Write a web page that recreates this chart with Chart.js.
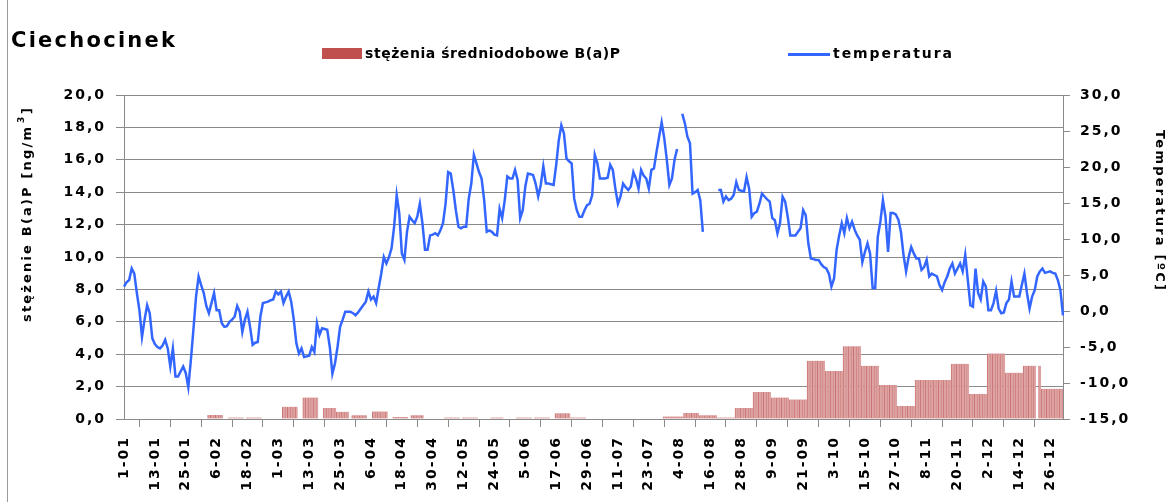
<!DOCTYPE html>
<html>
<head>
<meta charset="utf-8">
<script src="https://cdn.jsdelivr.net/npm/chart.js@4.4.1/dist/chart.umd.min.js"></script>
<style>
html, body { margin: 0; padding: 0; background: #fff; }
#wrap { position: relative; width: 1171px; height: 502px; }
</style>
</head>
<body>
<div id="wrap"><canvas id="ciechocinek"></canvas></div>
<script>
const BAR_FILL = '#dea4a3';
const BAR_STRIPE = '#c97473';
const LEGEND_RED = '#c0504d';
const LINE_COLOR = '#3366ff';
const AXIS_COLOR = '#8a8a8a';
const FONT_FAMILY = '"DejaVu Sans", sans-serif';
const YEAR = 2008; // leap year: 18-02 + 12 days = 1-03

// B(a)P composite samples: first day, last day (0 = 1 Jan), value in ng/m3
const BAP_START = [33, 41, 48, 62, 70, 78, 83, 89, 97, 105, 112, 125, 132, 143, 153, 160, 168, 174,
    210, 218, 224, 231, 238, 245, 252, 259, 266, 273, 280, 287, 294, 301, 308, 322, 329, 336, 343, 350, 356, 357];
const BAP_END = [38, 46, 53, 67, 75, 82, 87, 94, 102, 110, 116, 130, 137, 147, 158, 165, 173, 179,
    217, 223, 230, 237, 244, 251, 258, 265, 272, 279, 286, 293, 300, 307, 321, 328, 335, 342, 349, 354, 356, 365];
const BAP_VALUE = [0.25, 0.1, 0.1, 0.76, 1.32, 0.68, 0.45, 0.23, 0.47, 0.12, 0.23, 0.1, 0.1, 0.1, 0.1, 0.1, 0.35, 0.1,
    0.16, 0.37, 0.23, 0.1, 0.68, 1.67, 1.32, 1.21, 3.6, 2.96, 4.49, 3.29, 2.1, 0.8, 2.41, 3.41, 1.54, 4.05, 2.86, 3.29, 3.29, 1.87];

// daily mean temperature [C], 1 Jan - 31 Dec
const TEMPERATURE = [
    3.4, 4.0, 4.3, 5.9, 5.2, 2.5, 0.1, -3.6, -1.2, 0.8,
    -0.3, -3.8, -4.6, -5.0, -5.2, -4.8, -4.0, -5.2, -7.7, -5.2,
    -9.1, -9.1, -8.4, -7.7, -8.6, -10.6, -6.8, -2.5, 2.0, 4.8,
    3.6, 2.5, 0.7, -0.3, 1.1, 2.5, 0.1, 0.1, -1.7, -2.2,
    -2.1, -1.5, -1.2, -0.8, 0.7, -0.1, -2.9, -1.2, -0.1, -2.2,
    -4.7, -4.4, -4.3, -0.8, 1.1, 1.2, 1.3, 1.5, 1.6, 2.7,
    2.3, 2.7, 1.1, 2.0, 2.7, 1.3, -1.2, -4.5, -5.9, -5.2,
    -6.4, -6.3, -6.2, -5.0, -5.7, -1.7, -3.3, -2.4, -2.5, -2.6,
    -5.0, -8.7, -7.3, -5.0, -2.2, -1.2, -0.1, -0.1, -0.1, -0.3,
    -0.6, -0.2, 0.3, 0.8, 1.3, 2.7, 1.6, 2.0, 1.1, 3.2,
    5.2, 7.5, 6.6, 7.5, 8.7, 11.7, 16.1, 13.6, 8.0, 7.1,
    11.0, 13.1, 12.6, 12.2, 13.1, 14.9, 12.2, 8.5, 8.5, 10.5,
    10.6, 10.8, 10.5, 11.2, 12.2, 14.9, 19.3, 19.1, 16.8, 14.0,
    11.7, 11.5, 11.7, 11.7, 15.6, 17.7, 21.7, 20.5, 19.3, 18.4,
    15.4, 11.0, 11.2, 11.0, 10.6, 10.5, 14.2, 12.9, 15.4, 18.7,
    18.4, 18.4, 19.6, 18.2, 12.9, 14.0, 17.3, 19.1, 19.0, 18.9,
    17.7, 15.9, 17.5, 20.1, 17.7, 17.7, 17.6, 17.5, 20.3, 23.7,
    25.8, 24.7, 21.2, 20.8, 20.5, 15.6, 14.0, 13.1, 13.1, 14.0,
    14.7, 14.9, 16.1, 21.7, 20.5, 18.4, 18.4, 18.4, 18.5, 20.3, 19.6,
    17.0, 14.9, 15.9, 17.7, 17.2, 16.8, 17.3, 19.3, 18.4, 17.0,
    19.6, 18.8, 18.4, 17.0, 19.6, 19.8, 22.1, 24.2, 26.2, 24.0,
    21.0, 17.5, 18.4, 21.0, 22.5, null, 27.4, 26.1, 24.2, 23.3,
    16.3, 16.5, 16.8, 15.4, 11.0, null, null, null, null, null,
    16.8, 16.8, 15.2, 15.9, 15.4, 15.6, 16.1, 17.9, 16.8, 16.7,
    16.6, 18.6, 17.0, 13.1, 13.6, 13.8, 14.9, 16.3, 15.9, 15.5,
    15.2, 12.9, 12.6, 10.8, 12.2, 15.9, 15.2, 13.1, 10.5, 10.5,
    10.5, 11.0, 11.5, 14.0, 13.3, 9.4, 7.3, 7.2, 7.1, 7.1,
    6.5, 6.1, 5.9, 5.2, 3.4, 4.5, 8.5, 10.5, 12.2, 10.8,
    12.9, 11.5, 12.4, 11.3, 10.5, 9.9, 6.8, 8.2, 9.4, 8.0,
    3.2, 3.2, 10.3, 12.4, 15.4, 13.1, 8.2, 13.6, 13.6, 13.4,
    12.7, 11.0, 7.8, 5.5, 7.5, 8.9, 8.0, 7.3, 7.3, 5.7,
    6.1, 7.1, 4.8, 5.2, 5.0, 4.8, 3.6, 2.9, 4.0, 4.8,
    5.9, 6.6, 5.2, 5.9, 6.6, 5.5, 7.8, 4.3, 0.8, 0.6,
    5.9, 2.5, 1.6, 4.1, 3.4, 0.1, 0.1, 1.1, 2.8, 0.35,
    -0.3, -0.2, 1.1, 1.6, 4.1, 2.0, 2.0, 2.0, 3.6, 5.2,
    2.5, 0.35, 2.0, 2.9, 4.8, 5.5, 5.9, 5.3, 5.4, 5.5,
    5.3, 5.2, 4.3, 2.9, -0.6
];

const BAP_TICKS = { min: 0, max: 20, step: 2 };
const TEMP_TICKS = { min: -15, max: 30, step: 5 };
const LABEL_EVERY = 12;

function getDayLabels() {
    const labels = [];
    const d = new Date(YEAR, 0, 1);
    for (let i = 0; i < TEMPERATURE.length; i++) {
        labels.push(d.getDate() + '-' + String(d.getMonth() + 1).padStart(2, '0'));
        d.setDate(d.getDate() + 1);
    }
    return labels;
}

function getDailyBap() {
    const out = new Array(TEMPERATURE.length).fill(null);
    BAP_START.forEach((start, k) => {
        for (let i = start; i <= BAP_END[k]; i++) out[i] = BAP_VALUE[k];
    });
    return out;
}

function formatComma(value) {
    return value.toFixed(1).replace('.', ',');
}

function tickFont() {
    return { family: FONT_FAMILY, size: 14, weight: 'bold' };
}

// draws text so that it spans the given width (pixel-font look of the original)
function fillSpread(ctx, text, x, y, width) {
    ctx.letterSpacing = '0px';
    const w0 = ctx.measureText(text).width;
    const gap = text.length > 1 ? (width - w0) / (text.length - 1) : 0;
    ctx.letterSpacing = gap + 'px';
    ctx.fillText(text, x, y);
    ctx.letterSpacing = '0px';
}

function getLetterSpacingPlugin() {
    return {
        id: 'letterSpacing',
        beforeUpdate(chart) { chart.ctx.letterSpacing = '2px'; },
        beforeDraw(chart) { chart.ctx.letterSpacing = '2px'; }
    };
}

function getDecorationPlugin() {
    return {
        id: 'decoration',
        afterDraw(chart) {
            const { ctx } = chart;
            ctx.save();

            // chart frame
            ctx.strokeStyle = '#9a9a9a';
            ctx.lineWidth = 1;
            ctx.beginPath();
            ctx.moveTo(7.5, 0);
            ctx.lineTo(7.5, 502);
            ctx.stroke();

            ctx.fillStyle = '#000';
            ctx.textBaseline = 'alphabetic';
            ctx.textAlign = 'left';

            // title
            ctx.font = 'bold 21px ' + FONT_FAMILY;
            fillSpread(ctx, 'Ciechocinek', 11, 47, 164);

            // legend
            ctx.fillStyle = LEGEND_RED;
            ctx.fillRect(322, 48, 40, 11);
            ctx.fillStyle = '#000';
            ctx.font = 'bold 14px ' + FONT_FAMILY;
            fillSpread(ctx, 'stężenia średniodobowe B(a)P', 365, 58, 255);

            ctx.strokeStyle = LINE_COLOR;
            ctx.lineWidth = 3;
            ctx.beginPath();
            ctx.moveTo(788, 54.5);
            ctx.lineTo(830, 54.5);
            ctx.stroke();
            fillSpread(ctx, 'temperatura', 833, 58, 119);

            // left axis title
            ctx.save();
            ctx.translate(28, 322);
            ctx.rotate(-Math.PI / 2);
            ctx.textBaseline = 'middle';
            ctx.font = 'bold 13px ' + FONT_FAMILY;
            fillSpread(ctx, 'stężenie B(a)P [ng/m', 0, 0, 195);
            ctx.font = 'bold 9px ' + FONT_FAMILY;
            ctx.fillText('3', 199, -6);
            ctx.font = 'bold 13px ' + FONT_FAMILY;
            ctx.fillText(']', 208, 0);
            ctx.restore();

            // right axis title
            ctx.save();
            ctx.translate(1159, 130);
            ctx.rotate(Math.PI / 2);
            ctx.textBaseline = 'middle';
            ctx.font = 'bold 13px ' + FONT_FAMILY;
            fillSpread(ctx, 'Temperatura [ºC]', 0, 0, 160);
            ctx.restore();

            ctx.restore();
        }
    };
}

function getChartData() {
    return {
        labels: getDayLabels(),
        datasets: [{
            type: 'line',
            label: 'temperatura',
            data: TEMPERATURE,
            yAxisID: 'y1',
            borderColor: LINE_COLOR,
            borderWidth: 2.5,
            pointRadius: 0,
            tension: 0,
            spanGaps: false,
            order: 0
        }, {
            type: 'bar',
            label: 'stężenia średniodobowe B(a)P',
            data: getDailyBap(),
            yAxisID: 'y',
            backgroundColor: BAR_FILL,
            borderColor: BAR_STRIPE,
            borderWidth: { left: 1, right: 0, top: 0, bottom: 0 },
            barPercentage: 1,
            categoryPercentage: 1,
            order: 1
        }]
    };
}

function getChartConfig() {
    return {
        type: 'bar',
        data: getChartData(),
        options: {
            responsive: true,
            maintainAspectRatio: false,
            animation: false,
            layout: { padding: { top: 95, left: 0, right: 0, bottom: 0 } },
            plugins: {
                legend: { display: false },
                title: { display: false },
                tooltip: { enabled: false }
            },
            scales: {
                x: {
                    type: 'category',
                    offset: false,
                    grid: { drawOnChartArea: false, color: AXIS_COLOR, tickLength: 8 },
                    border: { color: AXIS_COLOR, width: 1 },
                    ticks: {
                        autoSkip: false,
                        minRotation: 90,
                        maxRotation: 90,
                        padding: 9,
                        color: '#000',
                        font: tickFont(),
                        callback: function (value, index) {
                            return index % LABEL_EVERY === 0 ? this.getLabelForValue(value) : null;
                        }
                    },
                    afterFit(scale) { scale.height = 83; }
                },
                y: {
                    position: 'left',
                    min: BAP_TICKS.min,
                    max: BAP_TICKS.max,
                    grid: { color: AXIS_COLOR, tickLength: 8 },
                    border: { color: AXIS_COLOR, width: 1 },
                    ticks: {
                        stepSize: BAP_TICKS.step,
                        padding: 10,
                        color: '#000',
                        font: tickFont(),
                        callback: formatComma
                    },
                    afterFit(scale) { scale.width = 124; }
                },
                y1: {
                    position: 'right',
                    min: TEMP_TICKS.min,
                    max: TEMP_TICKS.max,
                    grid: { drawOnChartArea: false, color: AXIS_COLOR, tickLength: 7 },
                    border: { color: AXIS_COLOR, width: 1 },
                    ticks: {
                        stepSize: TEMP_TICKS.step,
                        padding: 10,
                        color: '#000',
                        font: tickFont(),
                        callback: formatComma
                    },
                    afterFit(scale) { scale.width = 108; }
                }
            }
        },
        plugins: [getLetterSpacingPlugin(), getDecorationPlugin()]
    };
}

new Chart(document.getElementById('ciechocinek'), getChartConfig());
</script>
</body>
</html>
